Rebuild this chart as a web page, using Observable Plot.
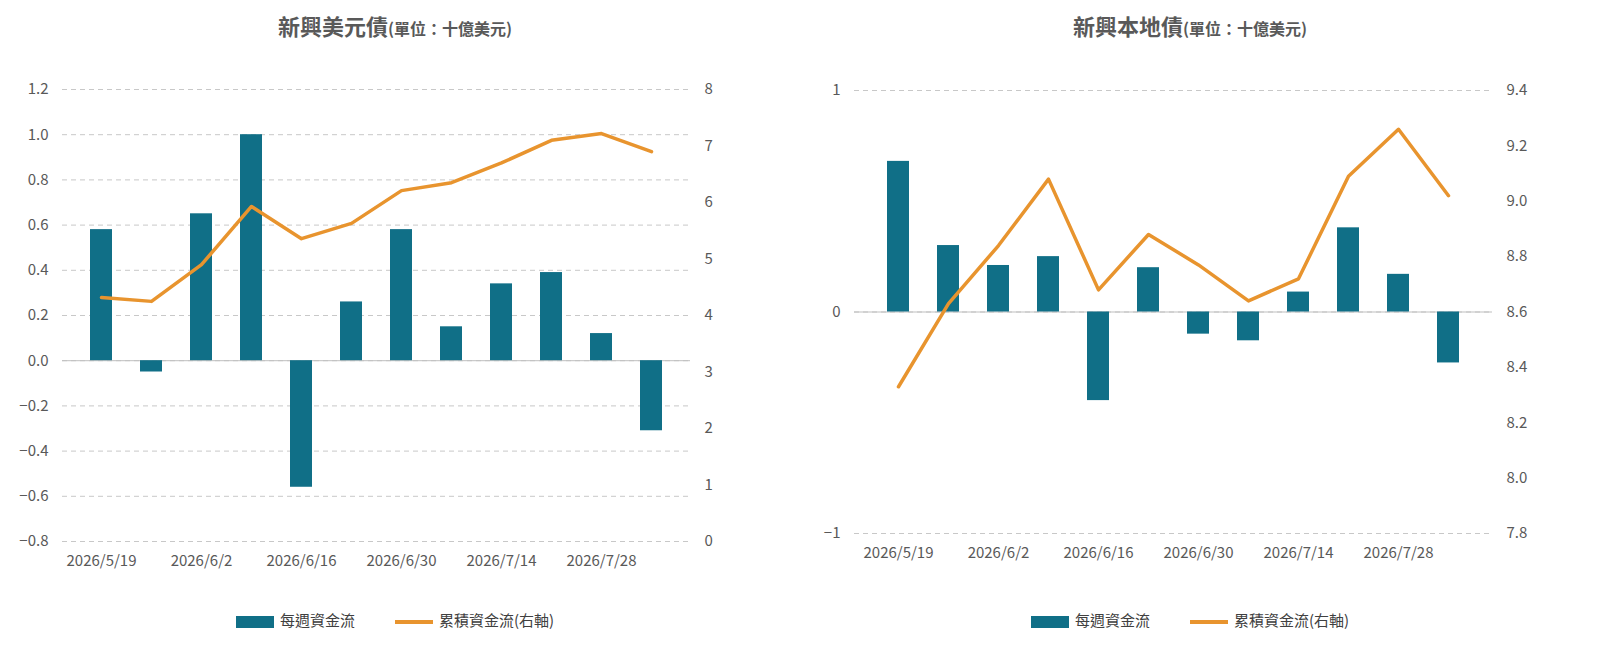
<!DOCTYPE html>
<html><head><meta charset="utf-8">
<script src="https://cdn.jsdelivr.net/npm/d3@7"></script>
<script src="https://cdn.jsdelivr.net/npm/@observablehq/plot@0.6"></script>
<style>
body{margin:0;background:#fff;font-family:"Noto Sans CJK TC","Noto Sans",sans-serif;}
#wrap{display:flex;width:1612px;}
.chart{position:relative;}
.title{height:60px;line-height:50px;text-align:center;font-weight:bold;color:#595959;font-size:22px;}
.title small{font-size:16px;}
.legend{display:flex;justify-content:center;gap:40px;font-size:15px;color:#404040;margin-top:28px;align-items:center;}
.sw{display:inline-block;vertical-align:middle;margin-right:6px;}
</style></head><body>
<div id="wrap"></div>
<script>
const dates = ["2026/5/19","2026/5/26","2026/6/2","2026/6/9","2026/6/16","2026/6/23","2026/6/30","2026/7/7","2026/7/14","2026/7/21","2026/7/28","2026/8/4"];
const usdWeekly = [0.58,-0.05,0.65,1.00,-0.56,0.26,0.58,0.15,0.34,0.39,0.12,-0.31];
const usdCum = [4.32,4.25,4.9,5.93,5.36,5.63,6.21,6.35,6.7,7.1,7.22,6.9];
const locWeekly = [0.68,0.30,0.21,0.25,-0.40,0.20,-0.10,-0.13,0.09,0.38,0.17,-0.23];
const locCum = [8.33,8.63,8.84,9.08,8.68,8.88,8.77,8.64,8.72,9.09,9.26,9.02];
const labelDates = ["2026/5/19","2026/6/2","2026/6/16","2026/6/30","2026/7/14","2026/7/28"];

function chart(opt){
  const {title, weekly, cum, lDom, rDom, lTicks, rTicks, lFmt, rFmt, width, ml, mr, mt, mb} = opt;
  const toL = d3.scaleLinear().domain(rDom).range(lDom);
  const data = dates.map((d,i)=>({d, w:weekly[i], c:toL(cum[i])}));
  const div = document.createElement("div"); div.className="chart"; div.style.width=width+"px";
  div.innerHTML = `<div class="title">${title[0]}<small>${title[1]}</small></div>`;
  const p = Plot.plot({
    width, height:521, marginLeft:ml, marginRight:mr, marginTop:mt, marginBottom:mb,
    style:{fontFamily:"Noto Sans CJK TC, sans-serif", fontSize:"15px", color:"#595959"},
    x:{type:"band", domain:dates, padding:0.55, label:null},
    y:{domain:lDom, label:null},
    marks:[
      Plot.gridY(lTicks,{stroke:"#c8c8c8", strokeOpacity:1, strokeDasharray:"5,4"}),
      Plot.ruleY([0],{stroke:"#bfbfbf"}),
      Plot.barY(data,{x:"d", y:"w", fill:"#106f87"}),
      Plot.lineY(data,{x:"d", y:"c", stroke:"#e8942e", strokeWidth:3.5}),
      Plot.axisY(lTicks,{anchor:"left", tickSize:0, tickPadding:14, tickFormat:lFmt, fontSize:15}),
      Plot.axisY(rTicks.map(v=>toL(v)),{anchor:"right", tickSize:0, tickPadding:14, tickFormat:v=>rFmt(toL.invert(v)), fontSize:15}),
      Plot.axisX(labelDates,{tickSize:0, tickPadding:14, fontSize:15})
    ]
  });
  div.appendChild(p);
  const lg = document.createElement("div"); lg.className="legend";
  lg.innerHTML = `<span><span class="sw" style="width:38px;height:12px;background:#106f87"></span>每週資金流</span><span><span class="sw" style="width:38px;height:4px;background:#e8942e"></span>累積資金流(右軸)</span>`;
  div.appendChild(lg);
  document.getElementById("wrap").appendChild(div);
}
chart({title:["新興美元債","(單位：十億美元)"], weekly:usdWeekly, cum:usdCum, lDom:[-0.8,1.2], rDom:[0,8],
  lTicks:d3.range(-0.8,1.21,0.2).map(v=>+v.toFixed(1)), rTicks:d3.range(0,9), lFmt:d3.format(".1f"), rFmt:d3.format("d"),
  width:790, ml:62, mr:100, mt:29, mb:40});
chart({title:["新興本地債","(單位：十億美元)"], weekly:locWeekly, cum:locCum, lDom:[-1,1], rDom:[7.8,9.4],
  lTicks:[-1,0,1], rTicks:d3.range(7.8,9.41,0.2).map(v=>+v.toFixed(1)), lFmt:d3.format("d"), rFmt:d3.format(".1f"),
  width:800, ml:64, mr:98, mt:30, mb:48});
</script></body></html>
